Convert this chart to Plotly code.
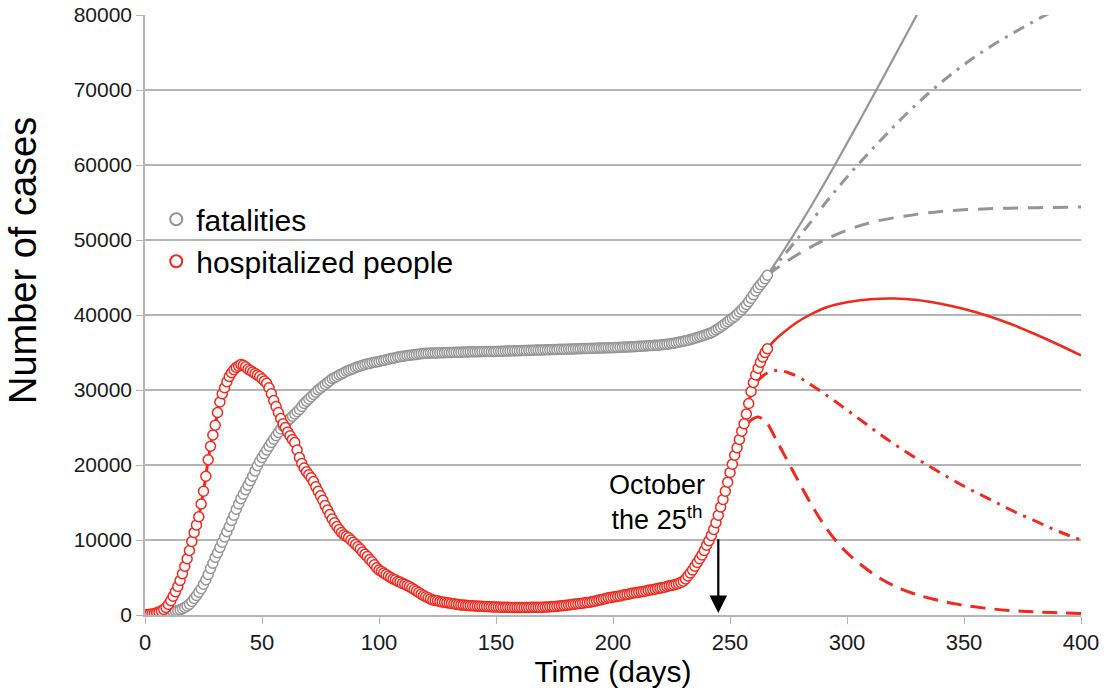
import plotly.graph_objects as go

# ---------------- data ----------------
days = list(range(0, 267))

hospitalized = [
    0, 50, 100, 150, 200, 300, 400, 550, 750, 1000,
    1400, 1900, 2500, 3100, 3800, 4600, 5500, 6500, 7500, 8600,
    9800, 11000, 12000, 13100, 14800, 16500, 18500, 20700, 22500, 24000,
    25300, 27000, 28400, 29500, 30300, 31100, 31800, 32300, 32700, 33000,
    33200, 33400, 33300, 33100, 32800, 32600, 32400, 32200, 32000, 31800,
    31500, 31200, 30900, 30300, 29500, 28600, 27800, 27000, 26200, 25500,
    25000, 24400, 23900, 23400, 23000, 22000, 21000, 20200, 19600, 19100,
    18700, 18300, 17800, 17100, 16500, 15900, 15300, 14600, 14000, 13400,
    12800, 12300, 11800, 11400, 11000, 10700, 10500, 10300, 10000, 9700,
    9400, 9100, 8800, 8400, 8100, 7800, 7400, 7100, 6700, 6300,
    6000, 5800, 5600, 5400, 5200, 5000, 4800, 4700, 4500, 4400,
    4200, 4100, 3950, 3800, 3600, 3400, 3200, 3000, 2800, 2600,
    2450, 2300, 2150, 2000, 1950, 1900, 1800, 1750, 1700, 1650,
    1600, 1550, 1500, 1450, 1400, 1350, 1320, 1300, 1280, 1250,
    1230, 1210, 1190, 1170, 1160, 1150, 1130, 1110, 1100, 1080,
    1070, 1060, 1050, 1040, 1030, 1020, 1010, 1000, 1000, 990,
    1000, 990, 1000, 1010, 1000, 1020, 1030, 1020, 1040, 1050,
    1050, 1070, 1080, 1100, 1120, 1150, 1180, 1200, 1240, 1270,
    1300, 1340, 1380, 1420, 1460, 1500, 1540, 1580, 1630, 1670,
    1700, 1760, 1830, 1900, 2000, 2050, 2150, 2200, 2300, 2350,
    2400, 2450, 2500, 2550, 2650, 2700, 2750, 2800, 2900, 2950,
    3000, 3050, 3100, 3150, 3200, 3300, 3350, 3400, 3450, 3550,
    3600, 3650, 3700, 3800, 3900, 3950, 4000, 4100, 4200, 4350,
    4500, 4800, 5200, 5600, 6000, 6500, 7000, 7500, 8000, 8600,
    9300, 9900, 10600, 11400, 12300, 13300, 14400, 15400, 16500, 17700,
    19000, 20100, 21300, 22300, 23400, 24500, 25500, 26800, 28200, 29800,
    31000, 32000, 32900, 33700, 34400, 35000, 35500,
]

fatalities = [
    0, 20, 40, 60, 80, 100, 130, 160, 200, 250,
    300, 360, 430, 520, 610, 700, 850, 1000, 1200, 1450,
    1800, 2200, 2600, 3050, 3500, 4100, 4700, 5400, 6200, 6900,
    7700, 8300, 9000, 9700, 10400, 11100, 11800, 12600, 13300, 14100,
    14800, 15500, 16100, 16700, 17300, 17900, 18500, 19200, 19900, 20500,
    21000, 21500, 22000, 22500, 23000, 23450, 23900, 24350, 24800, 25200,
    25600, 25900, 26200, 26500, 26800, 27100, 27400, 27800, 28200, 28500,
    28800, 29100, 29400, 29700, 30000, 30250, 30500, 30750, 31000, 31250,
    31500, 31650, 31800, 32000, 32150, 32300, 32500, 32600, 32750, 32850,
    33000, 33100, 33200, 33300, 33400, 33500, 33550, 33650, 33700, 33750,
    33800, 33900, 33950, 34050, 34100, 34200, 34250, 34300, 34400, 34450,
    34500, 34550, 34600, 34650, 34680, 34700, 34750, 34800, 34830, 34870,
    34900, 34910, 34920, 34930, 34940, 34950, 34960, 34970, 34980, 34990,
    35000, 35010, 35020, 35030, 35040, 35050, 35060, 35070, 35080, 35090,
    35100, 35100, 35110, 35110, 35120, 35120, 35130, 35130, 35140, 35140,
    35150, 35160, 35170, 35180, 35190, 35200, 35210, 35220, 35230, 35240,
    35250, 35260, 35270, 35280, 35290, 35300, 35310, 35320, 35330, 35340,
    35350, 35360, 35370, 35380, 35390, 35400, 35410, 35420, 35430, 35440,
    35450, 35460, 35470, 35480, 35490, 35500, 35510, 35520, 35530, 35540,
    35550, 35560, 35570, 35580, 35590, 35600, 35610, 35620, 35630, 35640,
    35650, 35660, 35680, 35690, 35710, 35720, 35740, 35750, 35770, 35780,
    35800, 35820, 35840, 35860, 35880, 35900, 35920, 35940, 35960, 35980,
    36000, 36030, 36070, 36110, 36150, 36200, 36250, 36310, 36370, 36430,
    36500, 36570, 36650, 36730, 36810, 36900, 37000, 37100, 37200, 37300,
    37400, 37520, 37650, 37800, 38000, 38200, 38400, 38630, 38860, 39100,
    39330, 39560, 39800, 40100, 40400, 40700, 41050, 41400, 41800, 42250,
    42700, 43200, 43650, 44050, 44400, 44850, 45300,
]

# projections (scenarios)
fat_solid_x = [266, 275, 285, 295, 305, 315, 325, 335]
fat_solid_y = [45300, 49600, 54700, 60100, 65700, 71400, 77200, 83000]

fat_dashdot_x = [266, 275, 283, 293, 304, 315, 325, 335, 345, 355, 365, 375, 385, 395, 400]
fat_dashdot_y = [45300, 48700, 51800, 55800, 59800, 63500, 66700, 69600, 72200, 74500,
                 76500, 78300, 80000, 81500, 82200]

fat_dash_x = [266, 275, 283, 291, 300, 311, 325, 340, 355, 370, 385, 400]
fat_dash_y = [45300, 47300, 48800, 50100, 51300, 52400, 53200, 53800, 54100, 54250, 54330, 54400]

hosp_solid_x = [266, 269, 273, 278, 284, 291, 300, 310, 320, 330, 340, 350, 360, 370, 380, 390, 400]
hosp_solid_y = [35500, 36600, 37700, 38900, 40000, 41000, 41700, 42100, 42200, 42000, 41500,
                40800, 39900, 38800, 37500, 36100, 34600]

hosp_dashdot_x = [262, 265, 268, 271, 275, 280, 287, 294, 301, 308, 315, 322, 330, 337, 344,
                  351, 358, 365, 372, 380, 387, 394, 400]
hosp_dashdot_y = [31300, 32100, 32500, 32600, 32300, 31600, 30200, 28700, 27100, 25500, 23900,
                  22400, 20800, 19500, 18200, 17000, 15900, 14800, 13700, 12600, 11600, 10700, 10000]

hosp_dash_x = [258, 260, 262, 264, 266, 270, 275, 280, 285, 290, 295, 300, 306, 313, 320, 328,
               337, 347, 358, 370, 380, 390, 400]
hosp_dash_y = [25700, 26200, 26400, 26100, 25500, 23200, 20300, 17400, 14600, 12100, 10000, 8300,
               6700, 5100, 3900, 2900, 2100, 1450, 950, 600, 420, 300, 200]

x_ticks = [0, 50, 100, 150, 200, 250, 300, 350, 400]
y_ticks = [0, 10000, 20000, 30000, 40000, 50000, 60000, 70000, 80000]

arrow_day = 245
arrow_top = 10300

# ---------------- styles ----------------
RED = "#f2281c"
GRAY = "#959595"
FONT = "Liberation Sans, Arial, sans-serif"

fig = go.Figure()

# projection lines
fig.add_trace(go.Scatter(x=fat_solid_x, y=fat_solid_y, mode="lines", showlegend=False,
                         line=dict(color=GRAY, width=2.2, shape="spline"), hoverinfo="skip"))
fig.add_trace(go.Scatter(x=fat_dashdot_x, y=fat_dashdot_y, mode="lines", showlegend=False,
                         line=dict(color=GRAY, width=3, dash="12px,7px,3px,7px", shape="spline"),
                         hoverinfo="skip"))
fig.add_trace(go.Scatter(x=fat_dash_x, y=fat_dash_y, mode="lines", showlegend=False,
                         line=dict(color=GRAY, width=3, dash="15px,10px", shape="spline"),
                         hoverinfo="skip"))
fig.add_trace(go.Scatter(x=hosp_solid_x, y=hosp_solid_y, mode="lines", showlegend=False,
                         line=dict(color=RED, width=2.5, shape="spline"), hoverinfo="skip"))
fig.add_trace(go.Scatter(x=hosp_dashdot_x, y=hosp_dashdot_y, mode="lines", showlegend=False,
                         line=dict(color=RED, width=3, dash="12px,7px,3px,7px", shape="spline"),
                         hoverinfo="skip"))
fig.add_trace(go.Scatter(x=hosp_dash_x, y=hosp_dash_y, mode="lines", showlegend=False,
                         line=dict(color=RED, width=3, dash="15px,9px", shape="spline"),
                         hoverinfo="skip"))

# model fit lines under the data
fig.add_trace(go.Scatter(x=days, y=fatalities, mode="lines", showlegend=False,
                         line=dict(color="#7a7a7a", width=4, shape="spline"), hoverinfo="skip"))
fig.add_trace(go.Scatter(x=days, y=hospitalized, mode="lines", showlegend=False,
                         line=dict(color=RED, width=3, shape="spline"), hoverinfo="skip"))

# data markers
fig.add_trace(go.Scatter(x=days, y=fatalities, mode="markers", name="fatalities",
                         legendgroup="a",
                         marker=dict(symbol="circle", size=10, color="white",
                                     line=dict(color=GRAY, width=1.5))))
fig.add_trace(go.Scatter(x=days, y=hospitalized, mode="markers", name="hospitalized people",
                         legendgroup="b",
                         marker=dict(symbol="circle", size=10, color="white",
                                     line=dict(color=RED, width=1.5))))

# arrow + text
fig.add_annotation(x=arrow_day, y=0, ax=arrow_day, ay=arrow_top, xref="x", yref="y",
                   axref="x", ayref="y", showarrow=True, arrowhead=2, arrowsize=1.6,
                   arrowwidth=2.2, arrowcolor="black", standoff=2, text="")
fig.add_annotation(x=219, y=15000, xref="x", yref="y", showarrow=False,
                   text="October<br>the 25<sup>th</sup>", align="center",
                   font=dict(family=FONT, size=27, color="black"))

# y-axis title (placed as in the reference, above the plot's mid-height)
fig.add_annotation(x=-0.1303, y=0.59, xref="paper", yref="paper", showarrow=False,
                   text="Number of cases", textangle=-90, xanchor="center", yanchor="middle",
                   font=dict(family=FONT, size=38, color="black"))

fig.update_layout(
    width=1110, height=693,
    margin=dict(l=145, r=29, t=15, b=78),
    paper_bgcolor="white", plot_bgcolor="white",
    font=dict(family=FONT, color="black"),
    legend=dict(x=0.012, y=0.703, xanchor="left", yanchor="top",
                font=dict(family=FONT, size=30, color="black"),
                bgcolor="rgba(0,0,0,0)", traceorder="grouped", tracegroupgap=0,
                itemsizing="constant"),
    showlegend=True,
)
fig.update_xaxes(range=[0, 400], tickvals=x_ticks, ticks="outside", ticklen=7,
                 tickcolor="#b5b5b5", showgrid=False, zeroline=False, showline=True,
                 linecolor="#b5b5b5", linewidth=1.5, automargin=False,
                 tickfont=dict(family=FONT, size=22, color="#1a1a1a"),
                 title=dict(text="Time (days)", font=dict(family=FONT, size=30), standoff=4))
fig.update_yaxes(range=[0, 80000], tickvals=y_ticks, tickformat="d", ticks="outside",
                 ticklen=7, tickcolor="#b5b5b5", showgrid=True, gridcolor="#b5b5b5",
                 gridwidth=1.5, zeroline=False, showline=True, linecolor="#b5b5b5",
                 linewidth=1.5, automargin=False,
                 tickfont=dict(family=FONT, size=21, color="#1a1a1a"))

fig.write_html("out.html")
